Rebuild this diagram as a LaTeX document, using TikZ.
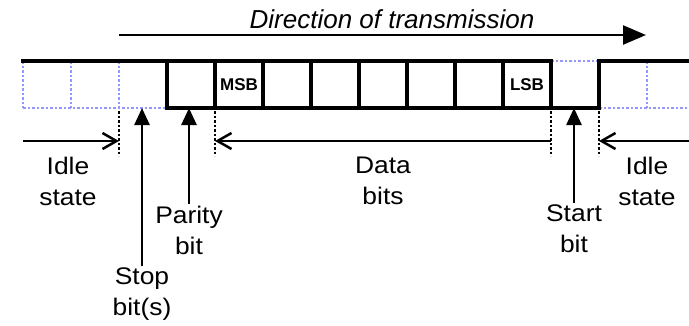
\documentclass[tikz,border=0pt]{standalone}
\usepackage{fontspec}
\setmainfont{Liberation Sans}
\newfontfamily\widefont[FakeStretch=1.1]{Liberation Sans}
\usetikzlibrary{arrows.meta,positioning}
\definecolor{idleblue}{RGB}{150,150,255}
\tikzstyle{wave}=[line width=4.5pt,line cap=rect]
\tikzstyle{idle}=[idleblue,line width=2.5pt,dotted]
\tikzstyle{marker}=[line width=2.5pt,dotted]
\tikzstyle{span}=[line width=2.5pt,-{Straight Barb[length=14pt,width=16pt]}]
\tikzstyle{pointer}=[line width=2.5pt,shorten <=2pt,-{Triangle[length=17pt,width=15pt]}]
\tikzstyle{note}=[font=\widefont\fontsize{24}{31}\selectfont,align=center,inner sep=0pt,anchor=north]
\tikzstyle{bitname}=[font=\fontsize{17}{20}\selectfont\bfseries,inner sep=0pt]

\begin{document}
\begin{tikzpicture}[x=1pt,y=-1pt]
\useasboundingbox (0,0) rectangle (689,325);

% Cell boundaries of the frame, top and bottom
\foreach \i in {0,...,13} {
\coordinate (t\i) at ({23+48*\i},61);
\coordinate (b\i) at ({23+48*\i},108);
}
\coordinate (tend) at (689,61);
\coordinate (bend) at (689,108);

% Idle line, dotted
\draw[idle] (b0) -- (b3) (b12) -- (bend) (t11) -- (t12);
\foreach \i in {0,1,2,13}
\draw[idle] (t\i) -- (b\i);

% The frame itself
\draw[wave] (t0) -- (t11) (b3) -- (b12) -- (t12) -- (tend);
\foreach \i in {3,...,11}
\draw[wave] (t\i) -- (b\i);

\node[bitname] (msb) at (239,85) {MSB};
\node[bitname] (lsb) at (527,85) {LSB};

% Direction of transmission
\coordinate (dirA) at (119,35);
\coordinate (dirB) at (646,35);
\draw[line width=2.5pt,-{Triangle[length=23pt,width=19pt]}] (dirA) -- (dirB);
\node[font=\fontsize{26}{30}\selectfont\itshape,anchor=base,inner sep=0pt] (dir) at (392,28) {Direction of transmission};

% Limits of the parts below the frame
\foreach \i in {2,4,11,12} {
\coordinate (m\i) at ([yshift=-3pt]b\i);
\coordinate (n\i) at ([yshift=-48pt]b\i);
\coordinate (s\i) at ([yshift=-33pt]b\i);
}
\foreach \i in {2,4,11,12}
\draw[marker] (m\i) -- (n\i);
\coordinate (s0) at (23,141);
\coordinate (send) at (689,141);

\draw[span] (s0) -- (s2);
\draw[span,{Straight Barb[length=14pt,width=16pt]}-] (s4) -- (s11);
\draw[span] (send) -- (s12);

% Labels
\node[note] (idleL) at (68,157) {Idle\\state};
\node[note] (data) at (383,157) {Data\\bits};
\node[note] (idleR) at (647,157) {Idle\\state};
\node[note] (parity) at (189,206) {Parity\\bit};
\node[note] (start) at (574,205) {Start\\bit};
\node[note] (stop) at (142,268) {Stop\\bit(s)};

% Pointers up to the frame
\foreach \name in {stop,parity,start}
\draw[pointer] (\name.north) -- (\name.north |- b0);

\end{tikzpicture}
\end{document}
